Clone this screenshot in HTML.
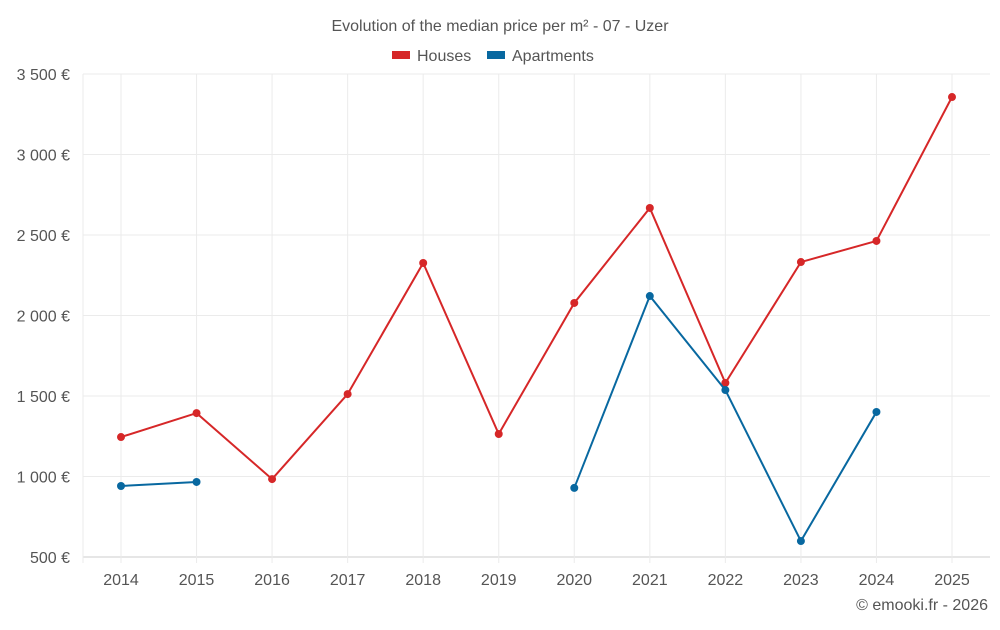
<!DOCTYPE html>
<html><head><meta charset="utf-8"><style>
body{margin:0;background:#fff;font-family:"Liberation Sans",sans-serif}
svg text{font-family:"Liberation Sans",sans-serif;fill:#555}
</style></head><body>
<svg id="c" width="1000" height="625">
<text x="500" y="31" text-anchor="middle" font-size="16">Evolution of the median price per m² - 07 - Uzer</text>
<g>
<rect x="392" y="51" width="18" height="8" fill="#d62728"/>
<text x="417" y="61" font-size="16">Houses</text>
<rect x="487" y="51" width="18" height="8" fill="#0868a0"/>
<text x="512" y="61" font-size="16">Apartments</text>
</g>
<g id="grid"></g><g id="marks"></g>
<text x="988" y="610" text-anchor="end" font-size="16">© emooki.fr - 2026</text>
</svg>
<script>
const years=[2014,2015,2016,2017,2018,2019,2020,2021,2022,2023,2024,2025];
const houses=[1245,1394,984,1512,2326,1264,2078,2668,1581,2332,2463,3357];
const apartments=[941,966,null,null,null,null,929,2121,1537,599,1401,null];
const yTicks=[500,1000,1500,2000,2500,3000,3500];
const yLabels=["500 €","1 000 €","1 500 €","2 000 €","2 500 €","3 000 €","3 500 €"];
const NS="http://www.w3.org/2000/svg";
const L=83,R=990,T=74,B=557;
const x=i=>121+i*(952-121)/(years.length-1);
const y=v=>B-(v-500)/3000*(B-T);
function mk(p,t,a){const e=document.createElementNS(NS,t);for(const k in a)e.setAttribute(k,a[k]);document.getElementById(p).appendChild(e);return e;}
yTicks.forEach((v,i)=>{
 const g=mk('grid','line',{x1:L,x2:R,y1:y(v),y2:y(v),stroke:i==0?'#ccc':'#ebebeb'});
 
 
 const t=mk('grid','text',{x:70,y:y(v)+6,'text-anchor':'end','font-size':16});
 t.textContent=yLabels[i];
 
 
});
const v0=mk('grid','line',{x1:L,x2:L,y1:T,y2:B+6,stroke:'#ebebeb'});


years.forEach((yr,i)=>{
 const g=mk('grid','line',{x1:x(i),x2:x(i),y1:T,y2:B+6,stroke:'#ebebeb'});
 
 
 const t=mk('grid','text',{x:x(i),y:585,'text-anchor':'middle','font-size':16});
 t.textContent=yr;
 
 
});
function series(vals,col,name){
 let seg=[];const segs=[];
 vals.forEach((v,i)=>{if(v==null){if(seg.length)segs.push(seg);seg=[];}else seg.push([x(i),y(v)]);});
 if(seg.length)segs.push(seg);
 segs.forEach(s=>{
  const p=mk('marks','polyline',{points:s.map(q=>q.join(',')).join(' '),fill:'none',stroke:col,'stroke-width':2});
  
  
 });
 vals.forEach((v,i)=>{if(v==null)return;
  const c=mk('marks','circle',{cx:x(i),cy:y(v),r:4,fill:col});
  
  
 });
}
series(houses,'#d62728','houses');
series(apartments,'#0868a0','apartments');
</script>
</body></html>
